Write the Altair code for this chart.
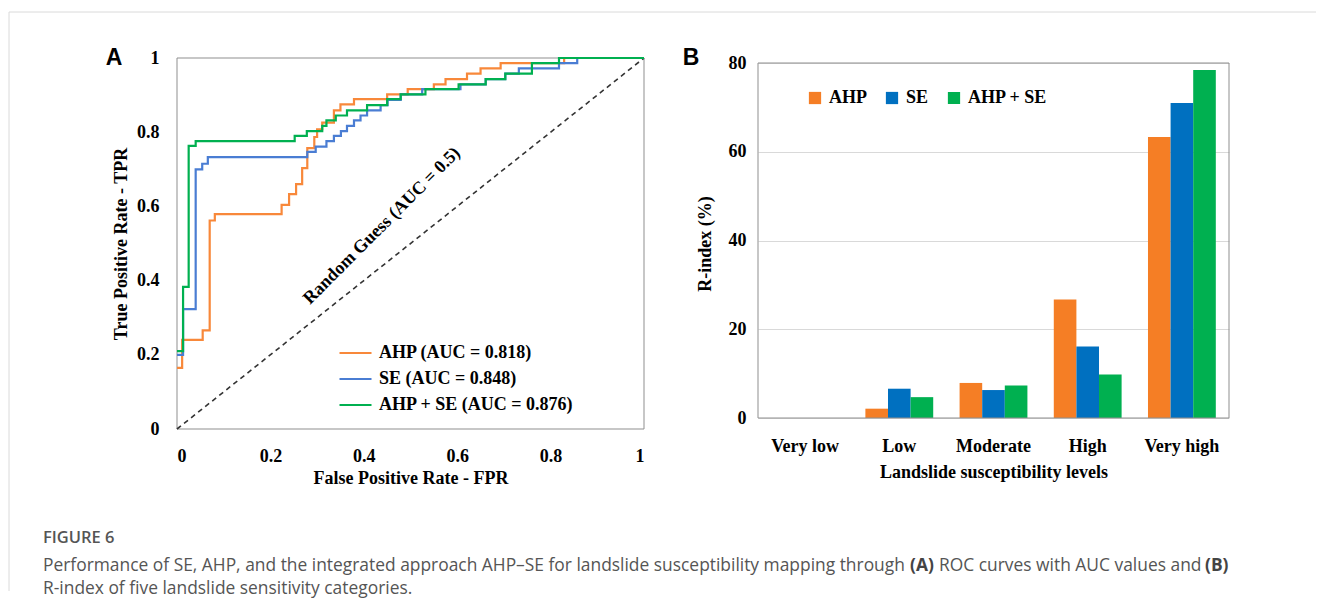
import altair as alt
import pandas as pd

# ---------------- data ----------------
roc_names = ["AHP (AUC = 0.818)", "SE (AUC = 0.848)", "AHP + SE (AUC = 0.876)"]
roc_colors = ["#F8883A", "#4A7DD3", "#00B050"]

ahp_fpr = [0.0, 0.011, 0.055, 0.070, 0.081, 0.224, 0.240, 0.255, 0.268, 0.279, 0.294, 0.300, 0.311,
           0.336, 0.350, 0.379, 0.450, 0.494, 0.550, 0.575, 0.621, 0.650, 0.693, 0.829, 1.0]
ahp_tpr = [0.165, 0.240, 0.266, 0.562, 0.579, 0.604, 0.633, 0.660, 0.703, 0.757, 0.787, 0.808, 0.826,
           0.859, 0.875, 0.889, 0.902, 0.916, 0.929, 0.943, 0.958, 0.972, 0.986, 1.0, 1.0]

se_fpr = [0.0, 0.013, 0.040, 0.054, 0.066, 0.279, 0.297, 0.320, 0.336, 0.351, 0.364, 0.379, 0.393,
          0.407, 0.436, 0.451, 0.479, 0.525, 0.607, 0.661, 0.703, 0.732, 0.818, 0.857, 1.0]
se_tpr = [0.200, 0.323, 0.700, 0.715, 0.733, 0.747, 0.761, 0.776, 0.790, 0.803, 0.817, 0.832, 0.845,
          0.859, 0.873, 0.887, 0.902, 0.916, 0.929, 0.943, 0.958, 0.972, 0.986, 1.0, 1.0]

ahpse_fpr = [0.0, 0.013, 0.025, 0.040, 0.252, 0.278, 0.311, 0.320, 0.340, 0.364, 0.407, 0.450, 0.479,
             0.532, 0.603, 0.661, 0.703, 0.760, 0.818, 1.0]
ahpse_tpr = [0.210, 0.383, 0.763, 0.776, 0.790, 0.803, 0.817, 0.832, 0.845, 0.859, 0.873, 0.889, 0.902,
             0.916, 0.929, 0.943, 0.958, 0.986, 1.0, 1.0]

diag_fpr = [0.0, 1.0]
diag_tpr = [0.0, 1.0]

levels = ["Very low", "Low", "Moderate", "High", "Very high"]
models = ["AHP", "SE", "AHP + SE"]
bar_colors = ["#F57E25", "#0070C0", "#00B050"]
ahp_r = [0.0, 2.1, 7.9, 26.7, 63.3]
se_r = [0.0, 6.6, 6.3, 16.1, 71.0]
ahpse_r = [0.0, 4.7, 7.3, 9.8, 78.4]

fig_label = "FIGURE 6"
cap_seg1 = "Performance of SE, AHP, and the integrated approach AHP\u2013SE for landslide susceptibility mapping through"
cap_seg2 = "(A)"
cap_seg3 = "ROC curves with AUC values and"
cap_seg4 = "(B)"
cap_line2 = "R-index of five landslide sensitivity categories."

# ---------------- tables ----------------
rows = []
for name, fx, ty in zip(roc_names, [ahp_fpr, se_fpr, ahpse_fpr], [ahp_tpr, se_tpr, ahpse_tpr]):
    for a, b in zip(fx, ty):
        rows.append({"series": name, "fpr": a, "tpr": b})
roc_df = pd.DataFrame(rows)
diag_df = pd.DataFrame({"fpr": diag_fpr, "tpr": diag_tpr})

brows = []
for m, vals in zip(models, [ahp_r, se_r, ahpse_r]):
    for lv, v in zip(levels, vals):
        brows.append({"level": lv, "model": m, "value": v})
bar_df = pd.DataFrame(brows)

one = pd.DataFrame({"k": [0]})

SERIF = "Liberation Serif"
SANS = "Liberation Sans"
CAPF = "Open Sans"
CAPS = 17.4

WA, HA = 467, 371
WB, HB = 471, 371


def txt(text, x, y, **kw):
    return alt.Chart(one).mark_text(text=text, baseline="middle", **kw).encode(
        x=alt.value(x), y=alt.value(y))


# ---------------- panel A ----------------
xA = alt.X("fpr:Q", scale=alt.Scale(domain=[0, 1], nice=False),
           axis=alt.Axis(values=[0, 0.2, 0.4, 0.6, 0.8, 1], format="~g",
                         title="False Positive Rate - FPR", domain=False, ticks=False, grid=False,
                         labelPadding=18, titlePadding=4, labelFont=SERIF, labelFontWeight="bold",
                         labelFontSize=18, titleFont=SERIF, titleFontWeight="bold", titleFontSize=18,
                         labelColor="black", titleColor="black"))
yA = alt.Y("tpr:Q", scale=alt.Scale(domain=[0, 1], nice=False),
           axis=alt.Axis(values=[0, 0.2, 0.4, 0.6, 0.8, 1], format="~g",
                         title="True Positive Rate - TPR", domain=False, ticks=False, grid=False,
                         labelPadding=18, titlePadding=6, labelFont=SERIF, labelFontWeight="bold",
                         labelFontSize=18, titleFont=SERIF, titleFontWeight="bold", titleFontSize=18,
                         labelColor="black", titleColor="black"))

boxA = alt.Chart(one).mark_rect(fillOpacity=0, stroke="#8f8f8f", strokeWidth=1).encode(
    x=alt.value(0), x2=alt.value(WA), y=alt.value(0), y2=alt.value(HA))

diag = alt.Chart(diag_df).mark_line(color="#333333", strokeWidth=1.6, strokeDash=[5, 4]).encode(
    x=xA, y=yA)

roc = alt.Chart(roc_df).mark_line(interpolate="step-after", strokeWidth=2.2).encode(
    x=xA, y=yA,
    color=alt.Color("series:N", sort=roc_names,
                    scale=alt.Scale(domain=roc_names, range=roc_colors),
                    legend=alt.Legend(orient="none", legendX=161, legendY=285, title=None,
                                      symbolType="stroke", symbolSize=1024, symbolStrokeWidth=2.2,
                                      clipHeight=20, rowPadding=6, padding=0, labelOffset=6,
                                      labelLimit=400, labelFont=SERIF, labelFontWeight="bold",
                                      labelFontSize=18, labelColor="black")),
    order=alt.Order("fpr:Q"))

rg = txt("Random Guess (AUC = 0.5)", 205, 168, angle=315, align="center",
         font=SERIF, fontWeight="bold", fontSize=18, color="black")

labA = txt("A", -63, 0, align="center", font=SANS, fontWeight="bold", fontSize=23, color="black")

frame_top = alt.Chart(one).mark_rule(color="#dadada", strokeWidth=1).encode(
    x=alt.value(-168), x2=alt.value(1139), y=alt.value(-46))
frame_left = alt.Chart(one).mark_rule(color="#dadada", strokeWidth=1).encode(
    x=alt.value(-168), y=alt.value(-46), y2=alt.value(533))

cap0 = txt(fig_label, -134, 480, align="left", font=CAPF, fontSize=16.5, fontWeight=600, color="#555555")
cap1 = txt(cap_seg1, -134, 508, align="left", font=CAPF, fontSize=CAPS, color="#555555")
cap2 = txt(cap_seg2, 733, 508, align="left", font=CAPF, fontSize=CAPS, fontWeight="bold", color="#444444")
cap3 = txt(cap_seg3, 762, 508, align="left", font=CAPF, fontSize=CAPS, color="#555555")
cap4 = txt(cap_seg4, 1028, 508, align="left", font=CAPF, fontSize=CAPS, fontWeight="bold", color="#444444")
cap5 = txt(cap_line2, -134, 531, align="left", font=CAPF, fontSize=CAPS, color="#555555")

panelA = alt.layer(frame_top, frame_left, boxA, diag, roc, rg, labA,
                   cap0, cap1, cap2, cap3, cap4, cap5).properties(width=WA, height=HA)

# ---------------- panel B ----------------
ydom = [-11 * 80 / 355, 80 + 5 * 80 / 355]
xB = alt.X("level:N", sort=levels, scale=alt.Scale(paddingInner=0.28, paddingOuter=0.14),
           axis=alt.Axis(labelAngle=0, title="Landslide susceptibility levels", domain=False,
                         ticks=False, labelPadding=8, titlePadding=8, labelFont=SERIF,
                         labelFontWeight="bold", labelFontSize=18, titleFont=SERIF,
                         titleFontWeight="bold", titleFontSize=18, labelColor="black",
                         titleColor="black"))
yB = alt.Y("value:Q", stack=None, scale=alt.Scale(domain=ydom, nice=False, zero=False),
           axis=alt.Axis(values=[0, 20, 40, 60, 80], title="R-index (%)", domain=False, ticks=False,
                         grid=True, gridColor="#d9d9d9", gridWidth=1, labelPadding=12,
                         titlePadding=14, labelFont=SERIF, labelFontWeight="bold", labelFontSize=18,
                         titleFont=SERIF, titleFontWeight="bold", titleFontSize=18,
                         labelColor="black", titleColor="black"))

bars = alt.Chart(bar_df).mark_bar().encode(
    x=xB, y=yB, y2=alt.datum(0),
    xOffset=alt.XOffset("model:N", sort=models, scale=alt.Scale(paddingInner=0, paddingOuter=0)),
    color=alt.Color("model:N", sort=models, scale=alt.Scale(domain=models, range=bar_colors),
                    legend=alt.Legend(orient="none", legendX=48, legendY=30, title=None,
                                      direction="horizontal", symbolType="square", symbolSize=150,
                                      symbolStrokeWidth=0, clipHeight=20, columnPadding=16,
                                      padding=0, labelOffset=5, labelFont=SERIF,
                                      labelFontWeight="bold", labelFontSize=18, labelColor="black")))

boxB = alt.Chart(one).mark_rect(fillOpacity=0, stroke="#8f8f8f", strokeWidth=1).encode(
    x=alt.value(0), x2=alt.value(WB), y=alt.datum(80), y2=alt.datum(0))

labB = txt("B", -67, 0, align="center", font=SANS, fontWeight="bold", fontSize=23, color="black")

panelB = alt.layer(bars, boxB, labB).properties(width=WB, height=HB)

chart = alt.hconcat(panelA, panelB, spacing=114, bounds="flush").resolve_scale(
    color="independent", x="independent", y="independent").properties(
    padding={"left": 0, "top": 3, "right": 0, "bottom": 3}, background="white"
).configure_view(stroke=None)

chart.save("out.html", embed_options={"renderer": "svg", "actions": False})
